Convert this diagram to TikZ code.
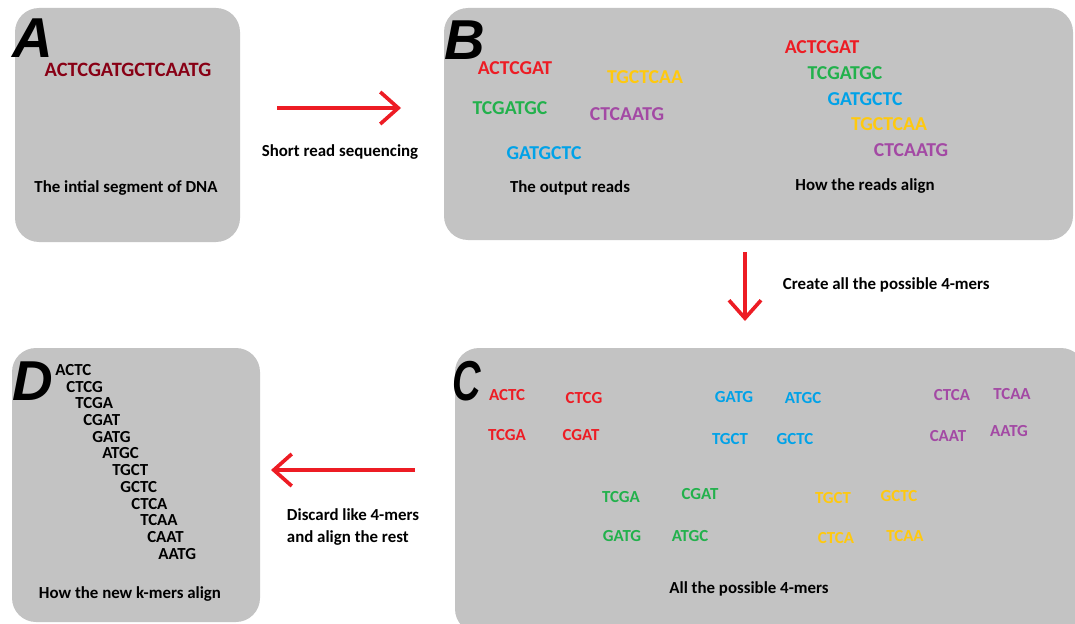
\documentclass[tikz,border=0pt]{standalone}
\usepackage{fontspec}
\setmainfont{Carlito}
\newfontfamily\letterfont{Liberation Sans}
\usetikzlibrary{arrows.meta}
\definecolor{panelgray}{HTML}{C3C3C3}
\definecolor{arrowred}{HTML}{ED1C24}
\definecolor{dnared}{HTML}{880015}
\definecolor{kred}{HTML}{ED1C24}
\definecolor{kyellow}{HTML}{FFC90E}
\definecolor{kgreen}{HTML}{22B14C}
\definecolor{kblue}{HTML}{00A2E8}
\definecolor{kpurple}{HTML}{A349A4}
\newcommand{\drawpanel}[5]{
	\fill[panelgray,rounded corners=6mm] #1 rectangle #2;
	\draw #3 node[panel letter] (#4) {#5};
}

\begin{document}
\begin{tikzpicture}[x=0.025cm,y=-0.025cm,
	read/.style={font=\bfseries\fontsize{14}{16}\selectfont},
	kmer/.style={font=\bfseries\fontsize{12}{14}\selectfont},
	caption/.style={font=\bfseries\fontsize{12}{15}\selectfont},
	panel letter/.style={font=\letterfont\bfseries\itshape\fontsize{40}{40}\selectfont,anchor=base west,inner sep=0pt},
	redarrow/.style={draw=arrowred,line width=2.6pt,-{Straight Barb[length=4.5mm,width=8mm]}}]
	\useasboundingbox (0,0) rectangle (1075,623);
	\drawpanel{(15,8)}{(240,242)}{(12,58)}{A}{A};
	\drawpanel{(444,8)}{(1073,240)}{(444,60)}{B}{B};
	\drawpanel{(455,348)}{(1085,633)}{(452,400)}{C}{\scalebox{0.7}[1]{C}};
	\drawpanel{(12,348)}{(260,622)}{(12,400)}{D}{D};
	% panel A
	\draw (128,70) node[read,text=dnared,font=\bfseries\fontsize{14.5}{16}\selectfont] (dna) {ACTCGATGCTCAATG};
	\draw (126,188) node[caption] (capA) {The intial segment of DNA};
	% panel B, the reads
	\draw (515,68) node[read,text=kred] (r1) {ACTCGAT};
	\draw (645,77) node[read,text=kyellow] (r4) {TGCTCAA};
	\draw (510,108) node[read,text=kgreen] (r2) {TCGATGC};
	\draw (627,114) node[read,text=kpurple] (r5) {CTCAATG};
	\draw (544,153) node[read,text=kblue] (r3) {GATGCTC};
	\draw (570,188) node[caption] (capB1) {The output reads};
	% panel B, aligned
	\draw (822,47) node[read,text=kred] (s1) {ACTCGAT};
	\draw (845,73) node[read,text=kgreen] (s2) {TCGATGC};
	\draw (865,99) node[read,text=kblue] (s3) {GATGCTC};
	\draw (889,124) node[read,text=kyellow] (s4) {TGCTCAA};
	\draw (911,150) node[read,text=kpurple] (s5) {CTCAATG};
	\draw (865,186) node[caption] (capB2) {How the reads align};
	% panel C
	\draw (507,395) node[kmer,text=kred] (c1) {ACTC} (584,398) node[kmer,text=kred] (c2) {CTCG};
	\draw (507,435) node[kmer,text=kred] (c3) {TCGA} (581,435) node[kmer,text=kred] (c4) {CGAT};
	\draw (734,397) node[kmer,text=kblue] (c5) {GATG} (803,398) node[kmer,text=kblue] (c6) {ATGC};
	\draw (730,439) node[kmer,text=kblue] (c7) {TGCT} (795,439) node[kmer,text=kblue] (c8) {GCTC};
	\draw (952,395) node[kmer,text=kpurple] (c9) {CTCA} (1012,394) node[kmer,text=kpurple] (c10) {TCAA};
	\draw (948,436) node[kmer,text=kpurple] (c11) {CAAT} (1009,431) node[kmer,text=kpurple] (c12) {AATG};
	\draw (621,497) node[kmer,text=kgreen] (c13) {TCGA} (700,494) node[kmer,text=kgreen] (c14) {CGAT};
	\draw (622,536) node[kmer,text=kgreen] (c15) {GATG} (690,536) node[kmer,text=kgreen] (c16) {ATGC};
	\draw (833,498) node[kmer,text=kyellow] (c17) {TGCT} (899,496) node[kmer,text=kyellow] (c18) {GCTC};
	\draw (836,538) node[kmer,text=kyellow] (c19) {CTCA} (905,536) node[kmer,text=kyellow] (c20) {TCAA};
	\draw (749,589) node[caption] (capC) {All the possible 4-mers};
	% panel D
	\foreach \kmer/\xx [count=\i from 0] in {ACTC/55,CTCG/66,TCGA/75,CGAT/83,GATG/92,ATGC/102,TGCT/112,GCTC/120,CTCA/131,TCAA/140,CAAT/147,AATG/158}
		\draw (\xx,{370+16.7*\i}) node[kmer,anchor=west,inner sep=0pt] (d\i) {\kmer};
	\draw (130,594) node[caption] (capD) {How the new k-mers align};
	% arrows
	\coordinate (a1s) at (277,108); \coordinate (a1e) at (401,108);
	\coordinate (a2s) at (745,252); \coordinate (a2e) at (745,321);
	\coordinate (a3s) at (415,470); \coordinate (a3e) at (271,470);
	\draw[redarrow] (a1s) -- (a1e);
	\draw[redarrow] (a2s) -- (a2e);
	\draw[redarrow] (a3s) -- (a3e);
	\draw (340,152) node[caption] (l1) {Short read sequencing};
	\draw (778,285) node[caption,anchor=west] (l2) {Create all the possible 4-mers};
	\draw (282,527) node[caption,anchor=west,align=left] (l3) {Discard like 4-mers\\and align the rest};
\end{tikzpicture}
\end{document}
